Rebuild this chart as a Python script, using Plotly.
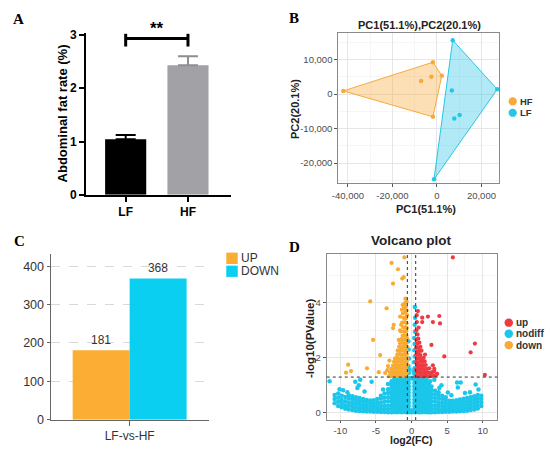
import math
import plotly.graph_objects as go

W, H = 550, 454

# ------------------------------------------------------------------ data
# Panel A: abdominal fat rate (%)
FAT_GROUPS = ["LF", "HF"]
FAT_MEAN = [1.04, 2.43]
FAT_SEM = [0.08, 0.17]
SIG_LABEL = "**"
SIG_Y = 2.93
SIG_TICK = [2.78, 3.02]

# Panel B: PCA scores
HF_PC1 = [-42100, -1800, 2200, -2500, -7100, -1800]
HF_PC2 = [900, 9200, 5300, 5000, 3800, -6600]
LF_PC1 = [7100, 27100, 6700, 10200, 7800, -1300]
LF_PC2 = [15600, 1350, 1000, -6100, -7100, -24700]
PCA_XTICKS = [-40000, -20000, 0, 20000]
PCA_YTICKS = [-20000, -10000, 0, 10000]

# Panel C: DEG counts
DEG_COMPARE = ["LF-vs-HF"]
DEG_UP = [181]
DEG_DOWN = [368]
DEG_YTICKS = [0, 100, 200, 300, 400]

# Panel D: volcano (log2FC, -log10 P)
FC_CUT = 1.5
P_CUT = 0.05
VOL_XTICKS = [-10, -5, 0, 5, 10]
VOL_YTICKS = [0, 2, 4]

NODIFF_LEFT_COLS = [
    (-10.8, [0.35, 0.5, 0.65]),
    (-10.3, [0.25, 0.4, 0.55, 0.7]),
    (-9.8, [0.2, 0.33, 0.47, 0.62]),
    (-9.3, [0.15, 0.28, 0.42, 0.58]),
    (-8.8, [0.12, 0.25, 0.38, 0.52, 0.64]),
    (-8.3, [0.1, 0.22, 0.35, 0.48, 0.6]),
    (-7.8, [0.08, 0.2, 0.33, 0.46, 0.57]),
    (-7.3, [0.07, 0.18, 0.3, 0.42, 0.54]),
    (-6.8, [0.06, 0.17, 0.28, 0.4, 0.5]),
    (-6.3, [0.05, 0.15, 0.26, 0.37, 0.47]),
    (-5.8, [0.05, 0.14, 0.25, 0.35, 0.45]),
    (-5.3, [0.04, 0.13, 0.24, 0.35, 0.46]),
    (-4.8, [0.04, 0.13, 0.24, 0.36, 0.5]),
    (-4.3, [0.03, 0.13, 0.25, 0.38, 0.52, 0.62]),
    (-3.8, [0.03, 0.14, 0.26, 0.4, 0.55, 0.7]),
    (-3.3, [0.02, 0.14, 0.27, 0.42, 0.57, 0.72, 0.86]),
]
NODIFF_RIGHT_COLS = [
    (2.8, [0.02, 0.14, 0.27, 0.41, 0.55, 0.69, 0.83, 0.96]),
    (3.3, [0.02, 0.14, 0.27, 0.4, 0.54, 0.68, 0.8]),
    (3.8, [0.03, 0.14, 0.26, 0.39, 0.52, 0.65, 0.75]),
    (4.3, [0.03, 0.13, 0.25, 0.37, 0.5, 0.62]),
    (4.8, [0.04, 0.13, 0.24, 0.35, 0.47, 0.57]),
    (5.3, [0.04, 0.13, 0.23, 0.33, 0.44]),
    (5.8, [0.05, 0.14, 0.24, 0.34, 0.44]),
    (6.3, [0.05, 0.15, 0.25, 0.35, 0.46]),
    (6.8, [0.06, 0.16, 0.27, 0.38, 0.49]),
    (7.3, [0.07, 0.17, 0.28, 0.4, 0.51]),
    (7.8, [0.08, 0.19, 0.3, 0.42, 0.54]),
    (8.3, [0.1, 0.21, 0.33, 0.45, 0.57]),
    (8.8, [0.12, 0.24, 0.36, 0.48, 0.6]),
    (9.3, [0.16, 0.28, 0.4, 0.52, 0.65]),
    (9.8, [0.25, 0.38, 0.5, 0.62]),
]
NODIFF_CORE_COLS = [
    (-2.8, [0.02, 0.14, 0.27, 0.4, 0.53, 0.66, 0.79, 0.92, 1.04, 1.15]),
    (-2.45, [0.03, 0.15, 0.26, 0.38, 0.5, 0.62, 0.75, 0.87, 0.98, 1.1, 1.2]),
    (-2.1, [0.02, 0.13, 0.25, 0.37, 0.49, 0.61, 0.73, 0.85, 0.97, 1.09, 1.22]),
    (-1.75, [0.03, 0.14, 0.26, 0.38, 0.5, 0.62, 0.74, 0.86, 0.98, 1.1, 1.21, 1.28]),
    (-1.4, [0.02, 0.13, 0.25, 0.37, 0.49, 0.61, 0.73, 0.85, 0.97, 1.09, 1.2, 1.28]),
    (-1.05, [0.03, 0.15, 0.27, 0.39, 0.51, 0.63, 0.75, 0.87, 0.99, 1.11, 1.22, 1.29]),
    (-0.72, [0.02, 0.14, 0.26, 0.38, 0.5, 0.62, 0.74, 0.86, 0.98, 1.1, 1.21, 1.28]),
    (-0.4, [0.02, 0.13, 0.25, 0.37, 0.49, 0.61, 0.73, 0.85, 0.97, 1.09, 1.2, 1.28]),
    (0.0, [0.02, 0.09, 1.26]),
    (0.4, [0.02, 0.13, 0.25, 0.37, 0.49, 0.61, 0.73, 0.85, 0.97, 1.09, 1.2, 1.28]),
    (0.72, [0.03, 0.15, 0.27, 0.39, 0.51, 0.63, 0.75, 0.87, 0.99, 1.11, 1.22, 1.29]),
    (1.05, [0.02, 0.14, 0.26, 0.38, 0.5, 0.62, 0.74, 0.86, 0.98, 1.1, 1.21, 1.28]),
    (1.4, [0.02, 0.13, 0.25, 0.37, 0.49, 0.61, 0.73, 0.85, 0.97, 1.09, 1.2, 1.28]),
    (1.75, [0.03, 0.15, 0.27, 0.39, 0.51, 0.63, 0.75, 0.87, 0.99, 1.11, 1.22]),
    (2.1, [0.02, 0.14, 0.26, 0.38, 0.5, 0.62, 0.74, 0.86, 0.98, 1.1, 1.2]),
    (2.45, [0.02, 0.13, 0.25, 0.37, 0.49, 0.61, 0.73, 0.85, 0.97, 1.07]),
]
NODIFF_SPARSE = [
    (0.38, 1.42), (0.42, 1.62), (0.35, 1.84), (0.45, 2.05), (0.4, 2.28), (0.44, 2.5),
    (0.38, 2.72), (0.48, 2.95), (0.45, 3.2), (0.5, 3.46), (0.46, 3.85), (-0.38, 1.45),
    (-0.42, 1.7), (-0.35, 1.98), (-0.4, 2.3), (-0.45, 2.6), (0.3, 1.5), (-0.3, 1.58),
    (-11.5, 1.15), (-10.1, 0.86), (-9.6, 0.82), (-7.9, 1.13), (-7.4, 1.0), (-7.2, 1.2),
    (-7.6, 0.9), (-5.6, 1.13), (-6.6, 0.78), (-9.0, 0.75), (3.2, 1.2), (4.2, 1.0),
    (5.1, 0.74), (6.4, 1.1), (6.9, 1.1), (6.5, 0.92), (9.0, 1.03), (9.4, 0.85),
    (7.5, 0.72), (5.6, 0.64), (8.2, 0.75), (-4.0, 0.85), (3.9, 0.9), (-3.3, 1.05),
    (2.6, 1.15),
]
DOWN_PTS = [
    (-3.15, 1.34), (-2.85, 1.33), (-2.55, 1.36), (-2.25, 1.33), (-1.95, 1.35), (-1.65, 1.33),
    (-1.35, 1.36), (-1.05, 1.34), (-0.75, 1.33), (-3.0, 1.46), (-2.7, 1.48), (-2.4, 1.45),
    (-2.1, 1.47), (-1.8, 1.46), (-1.5, 1.48), (-1.2, 1.45), (-0.9, 1.47), (-0.65, 1.46),
    (-2.85, 1.6), (-2.55, 1.58), (-2.25, 1.61), (-1.95, 1.59), (-1.65, 1.6), (-1.35, 1.58),
    (-1.05, 1.61), (-0.75, 1.59), (-2.6, 1.72), (-2.3, 1.74), (-2.0, 1.71), (-1.7, 1.73),
    (-1.4, 1.72), (-1.1, 1.74), (-0.8, 1.71), (-0.63, 1.75), (-2.45, 1.86), (-2.15, 1.84),
    (-1.85, 1.87), (-1.55, 1.85), (-1.25, 1.86), (-0.95, 1.84), (-0.68, 1.87), (-2.3, 1.98),
    (-2.0, 2.0), (-1.7, 1.97), (-1.4, 1.99), (-1.1, 1.98), (-0.8, 2.0), (-0.63, 1.98),
    (-2.0, 2.12), (-1.7, 2.13), (-1.4, 2.11), (-1.1, 2.13), (-0.85, 2.12), (-0.65, 2.14),
    (-1.95, 2.26), (-1.6, 2.25), (-1.3, 2.27), (-1.0, 2.25), (-0.75, 2.27), (-1.75, 2.4),
    (-1.45, 2.38), (-1.15, 2.4), (-0.85, 2.39), (-0.63, 2.41), (-1.6, 2.53), (-1.3, 2.55),
    (-1.0, 2.52), (-0.72, 2.54), (-1.8, 2.65), (-1.4, 2.68), (-1.1, 2.66), (-0.8, 2.67),
    (-0.64, 2.7), (-1.25, 2.8), (-0.95, 2.82), (-0.7, 2.8), (-1.5, 2.96), (-1.05, 2.95),
    (-0.75, 2.97), (-1.6, 3.0), (-1.45, 3.2), (-2.5, 3.2), (-2.6, 3.08), (-1.15, 3.1),
    (-0.85, 3.12), (-0.65, 3.08), (-1.3, 3.28), (-0.95, 3.3), (-0.7, 3.26), (-1.6, 3.5),
    (-1.1, 3.45), (-0.78, 3.44), (-0.62, 3.55), (-1.2, 3.62), (-0.9, 3.65), (-0.68, 3.72),
    (-1.35, 3.75), (-1.05, 3.8), (-0.8, 3.86), (-1.25, 3.92), (-0.95, 3.98), (-0.7, 4.05),
    (-0.85, 4.15), (-3.5, 3.8), (-5.8, 4.05), (-2.6, 4.7), (-1.3, 4.88), (-1.1, 4.93),
    (-1.9, 5.22), (-2.8, 5.45), (-1.0, 5.65), (-5.4, 2.65), (-4.4, 2.1), (-4.6, 1.48),
    (-3.7, 1.45), (-3.4, 1.55), (-3.3, 1.7), (-3.1, 1.9), (-8.9, 1.75), (-8.5, 1.52),
    (-9.2, 1.46), (-6.25, 1.62),
]
UP_PTS = [
    (0.66, 1.34), (0.95, 1.33), (1.25, 1.35), (1.55, 1.33), (1.85, 1.36), (2.15, 1.34),
    (2.45, 1.33), (2.75, 1.35), (3.05, 1.34), (3.35, 1.36), (0.8, 1.46), (1.1, 1.47),
    (1.4, 1.45), (1.7, 1.48), (2.0, 1.46), (2.3, 1.47), (2.6, 1.45), (2.9, 1.48),
    (0.66, 1.58), (0.95, 1.6), (1.25, 1.58), (1.55, 1.61), (1.85, 1.59), (2.15, 1.6),
    (2.5, 1.62), (3.2, 1.6), (0.8, 1.72), (1.1, 1.71), (1.4, 1.73), (1.7, 1.72),
    (2.0, 1.74), (3.0, 1.73), (0.66, 1.85), (0.95, 1.84), (1.25, 1.86), (1.55, 1.85),
    (1.85, 1.87), (0.8, 1.98), (1.1, 1.99), (1.4, 1.97), (1.7, 2.0), (0.66, 2.11),
    (0.95, 2.12), (1.25, 2.1), (1.9, 2.12), (0.8, 2.24), (1.1, 2.25), (1.4, 2.26),
    (0.66, 2.37), (0.95, 2.38), (1.25, 2.4), (0.8, 2.52), (1.1, 2.55), (2.8, 2.47),
    (0.68, 2.66), (0.95, 2.7), (0.85, 2.85), (0.68, 3.0), (1.0, 3.1), (1.5, 3.3),
    (0.75, 3.3), (3.0, 3.3), (4.0, 3.25), (2.3, 3.5), (3.9, 3.52), (1.5, 3.46),
    (0.9, 3.7), (0.72, 3.55), (4.6, 2.05), (8.3, 2.2), (8.9, 2.52), (10.3, 1.38),
    (5.8, 5.65), (3.2, 1.52), (3.6, 1.42),
]

# ------------------------------------------------------------------ helpers
FONT = "Liberation Sans, Arial, sans-serif"
SERIF = "Liberation Serif, Times New Roman, serif"


def xd(l, r):
    return [l / W, r / W]


def yd(t, b):
    return [1 - b / H, 1 - t / H]


def cols_to_xy(cols):
    xs, ys = [], []
    for x, yl in cols:
        for y in yl:
            xs.append(x)
            ys.append(y)
    return xs, ys


def pts_to_xy(pts):
    return [p[0] for p in pts], [p[1] for p in pts]


def convex_hull(xs, ys):
    pts = sorted(set(zip(xs, ys)))

    def cross(o, a, b):
        return (a[0] - o[0]) * (b[1] - o[1]) - (a[1] - o[1]) * (b[0] - o[0])

    lower, upper = [], []
    for p in pts:
        while len(lower) >= 2 and cross(lower[-2], lower[-1], p) <= 0:
            lower.pop()
        lower.append(p)
    for p in reversed(pts):
        while len(upper) >= 2 and cross(upper[-2], upper[-1], p) <= 0:
            upper.pop()
        upper.append(p)
    h = lower[:-1] + upper[:-1]
    h.append(h[0])
    return [p[0] for p in h], [p[1] for p in h]


def midpoints(ticks, lo, hi):
    step = ticks[1] - ticks[0]
    vals = [ticks[0] - step / 2] + [t + step / 2 for t in ticks]
    return [v for v in vals if lo <= v <= hi]


annotations = []
shapes = []


def ann(text, px, py, size, bold=False, angle=0, xanchor="center", color="#000000",
        family=FONT):
    annotations.append(dict(
        text=text, x=px / W, y=1 - py / H, xref="paper", yref="paper",
        xanchor=xanchor, yanchor="middle", showarrow=False, textangle=angle,
        font=dict(family=family, size=size, color=color,
                  weight="bold" if bold else "normal")))


fig = go.Figure()

# ------------------------------------------------------------------ Panel A
A_COL = ["#000000", "#A2A1A6"]
A_ERR = ["#000000", "#8F8E93"]
for g, m, s, c, ec in zip(FAT_GROUPS, FAT_MEAN, FAT_SEM, A_COL, A_ERR):
    fig.add_trace(go.Bar(
        x=[g], y=[m], width=0.66, offset=-0.33, xaxis="x", yaxis="y",
        marker=dict(color=c, line=dict(width=0)), showlegend=False,
        error_y=dict(type="data", array=[s], arrayminus=[0], symmetric=False,
                     color=ec, thickness=2, width=10)))

g0, g1 = FAT_GROUPS
fig.add_trace(go.Scatter(
    x=[g0, g0, None, g0, g1, None, g1, g1],
    y=[SIG_TICK[0], SIG_TICK[1], None, SIG_Y, SIG_Y, None, SIG_TICK[0], SIG_TICK[1]],
    mode="lines", line=dict(color="#000000", width=3), cliponaxis=False,
    xaxis="x", yaxis="y", showlegend=False))
annotations.append(dict(
    text=SIG_LABEL, x=0.5, xref="x", y=SIG_TICK[1], yref="y", yanchor="bottom",
    yshift=-6, showarrow=False, font=dict(family=FONT, size=17, weight="bold", color="#000")))

# ------------------------------------------------------------------ Panel B
HF_C, LF_C = "#F7AA3C", "#27C6E6"
for px_, py_, col, fill in [(HF_PC1, HF_PC2, HF_C, "rgba(247,170,60,0.38)"),
                            (LF_PC1, LF_PC2, LF_C, "rgba(39,198,230,0.36)")]:
    hx, hy = convex_hull(px_, py_)
    fig.add_trace(go.Scatter(x=hx, y=hy, mode="lines", fill="toself", fillcolor=fill,
                             line=dict(color=col, width=1), xaxis="x2", yaxis="y2",
                             showlegend=False, hoverinfo="skip"))
for px_, py_, col in [(HF_PC1, HF_PC2, HF_C), (LF_PC1, LF_PC2, LF_C)]:
    fig.add_trace(go.Scatter(x=px_, y=py_, mode="markers",
                             marker=dict(color=col, size=4.5), cliponaxis=False,
                             xaxis="x2", yaxis="y2", showlegend=False))

# ------------------------------------------------------------------ Panel C
UP_C, DOWN_C = "#FBAE33", "#0BCFF0"
fig.add_trace(go.Bar(x=DEG_COMPARE, y=DEG_UP, offset=-0.36, width=0.36,
                     marker=dict(color=UP_C, line=dict(width=0)),
                     text=DEG_UP, textposition="outside", cliponaxis=False,
                     textfont=dict(family=FONT, size=12, color="#333333"),
                     xaxis="x3", yaxis="y3", showlegend=False))
fig.add_trace(go.Bar(x=DEG_COMPARE, y=DEG_DOWN, offset=0.0, width=0.36,
                     marker=dict(color=DOWN_C, line=dict(width=0)),
                     text=DEG_DOWN, textposition="outside", cliponaxis=False,
                     textfont=dict(family=FONT, size=12, color="#333333"),
                     xaxis="x3", yaxis="y3", showlegend=False))

# ------------------------------------------------------------------ Panel D
V_UP, V_NO, V_DOWN = "#EF3A42", "#1BC6EA", "#F8AA32"
nx, ny = [], []
for cols in (NODIFF_LEFT_COLS, NODIFF_RIGHT_COLS, NODIFF_CORE_COLS):
    a, b = cols_to_xy(cols)
    nx += a
    ny += b
a, b = pts_to_xy(NODIFF_SPARSE)
nx += a
ny += b
dx_, dy_ = pts_to_xy(DOWN_PTS)
ux_, uy_ = pts_to_xy(UP_PTS)
fig.add_trace(go.Scatter(x=nx, y=ny, mode="markers", marker=dict(color=V_NO, size=4.5),
                         xaxis="x4", yaxis="y4", showlegend=False))
fig.add_trace(go.Scatter(x=dx_, y=dy_, mode="markers", marker=dict(color=V_DOWN, size=4.2),
                         xaxis="x4", yaxis="y4", showlegend=False))
fig.add_trace(go.Scatter(x=ux_, y=uy_, mode="markers", marker=dict(color=V_UP, size=4.2),
                         xaxis="x4", yaxis="y4", showlegend=False))

p_line = -math.log10(P_CUT)
fc_line = math.log2(FC_CUT)
dot = dict(color="#333333", width=1, dash="dot")
shapes.append(dict(type="line", xref="x4 domain", x0=0, x1=1, yref="y4", y0=p_line, y1=p_line, line=dot))
for v in (-fc_line, fc_line):
    shapes.append(dict(type="line", xref="x4", x0=v, x1=v, yref="y4 domain", y0=0, y1=1, line=dot))


# ------------------------------------------------------------------ legends (manual, compact)
def circle(cx, cy, r, color):
    shapes.append(dict(type="circle", xref="paper", yref="paper",
                       x0=(cx - r) / W, x1=(cx + r) / W, y0=1 - (cy + r) / H, y1=1 - (cy - r) / H,
                       fillcolor=color, line=dict(width=0)))


def rect(x0, y0, x1, y1, color):
    shapes.append(dict(type="rect", xref="paper", yref="paper",
                       x0=x0 / W, x1=x1 / W, y0=1 - y1 / H, y1=1 - y0 / H,
                       fillcolor=color, line=dict(width=0)))


circle(512.3, 99.0, 4.2, HF_C)
circle(512.3, 110.7, 4.2, LF_C)
ann("HF", 517.5, 99.0, 9.5, bold=True, xanchor="left", color="#333333")
ann("LF", 517.5, 110.7, 9.5, bold=True, xanchor="left", color="#333333")

rect(222.7, 254.3, 234.3, 266.0, UP_C)
rect(222.7, 267.7, 234.3, 279.3, DOWN_C)
ann("UP", 236.0, 260.2, 12, xanchor="left", color="#333333")
ann("DOWN", 236.0, 273.6, 12, xanchor="left", color="#333333")

for (lab, col, cy) in [("up", V_UP, 326.3), ("nodiff", V_NO, 337.7), ("down", V_DOWN, 349.3)]:
    circle(508.3, cy, 4.3, col)
    ann(lab, 513.8, cy, 10, bold=True, xanchor="left", color="#333333")

# ------------------------------------------------------------------ texts
ann("A", 12.5, 14.5, 15, bold=True, family=SERIF)
ann("B", 291.5, 13.0, 15, bold=True, family=SERIF)
ann("C", 13.5, 242.0, 15, bold=True, family=SERIF)
ann("D", 291.5, 248.5, 15, bold=True, family=SERIF)

ann("Abdominal fat rate (%)", 57.0, 111.0, 13, bold=True, angle=-90)
ann("PC1(51.1%),PC2(20.1%)", 418.3, 20.7, 11, bold=True, color="#222222")
ann("PC1(51.1%)", 425.0, 209.3, 11, bold=True, color="#222222")
ann("PC2(20.1%)", 292.0, 107.0, 11, bold=True, angle=-90, color="#222222")
ann("Volcano plot", 410.3, 242.0, 13.5, bold=True, color="#222222")
ann("log2(FC)", 410.3, 446.3, 10.5, bold=True, color="#222222")
ann("-log10(PValue)", 306.7, 342.7, 11.5, bold=True, angle=-90, color="#222222")

# ------------------------------------------------------------------ axes
gg = dict(showline=True, mirror=True, linecolor="#8A8A8A", linewidth=1,
          ticks="outside", ticklen=3, tickcolor="#555555", tickwidth=1,
          tickfont=dict(family=FONT, size=9.5, color="#4D4D4D"),
          showgrid=True, gridcolor="#E6E6E6", gridwidth=1, zeroline=False)
gg_x4 = dict(gg, ticklen=2)

layout_axes = dict(
    xaxis=dict(domain=xd(81, 227), anchor="y", type="category", range=[-0.635, 1.683],
               showline=True, linecolor="#000", linewidth=2, ticks="outside", ticklen=5,
               tickwidth=2, tickcolor="#000", showgrid=False, zeroline=False,
               tickfont=dict(family=FONT, size=12, color="#000", weight="bold")),
    yaxis=dict(domain=yd(29, 195), anchor="x", range=[0, 3.03], tickvals=[0, 1, 2, 3],
               showline=True, linecolor="#000", linewidth=2, ticks="outside", ticklen=5,
               tickwidth=2, tickcolor="#000", showgrid=False, zeroline=False,
               tickfont=dict(family=FONT, size=12, color="#000", weight="bold")),
    xaxis2=dict(domain=xd(336, 498), anchor="y2", range=[-44300, 27700],
                tickvals=PCA_XTICKS, ticktext=[f"{v:,}" for v in PCA_XTICKS],
                minor=dict(tickmode="array", tickvals=midpoints(PCA_XTICKS, -44300, 27700),
                           showgrid=True, gridcolor="#F2F2F2", gridwidth=0.7, ticks=""),
                **gg),
    yaxis2=dict(domain=yd(28.3, 183.3), anchor="x2", range=[-25900, 17800],
                tickvals=PCA_YTICKS, ticktext=[f"{v:,}" for v in PCA_YTICKS],
                minor=dict(tickmode="array", tickvals=midpoints(PCA_YTICKS, -25900, 17800),
                           showgrid=True, gridcolor="#F2F2F2", gridwidth=0.7, ticks=""),
                **gg),
    xaxis3=dict(domain=xd(45, 205), anchor="y3", type="category", range=[-0.5, 0.5],
                showline=True, linecolor="#666666", linewidth=1, ticks="outside", ticklen=5,
                tickcolor="#666666", showgrid=False, zeroline=False,
                tickfont=dict(family=FONT, size=12, color="#333333")),
    yaxis3=dict(domain=yd(256, 426), anchor="x3", range=[0, 431], tickvals=DEG_YTICKS,
                showline=True, linecolor="#666666", linewidth=1, ticks="outside", ticklen=3,
                tickcolor="#666666", showgrid=True, gridcolor="#D9D9D9", griddash="dash",
                gridwidth=1, zeroline=False,
                tickfont=dict(family=FONT, size=12.5, color="#333333")),
    xaxis4=dict(domain=xd(324.3, 496.7), anchor="y4", range=[-11.9, 12.04],
                tickvals=VOL_XTICKS, ticktext=[str(v) for v in VOL_XTICKS],
                minor=dict(tickmode="array", tickvals=midpoints(VOL_XTICKS, -11.9, 12.04),
                           showgrid=True, gridcolor="#F2F2F2", gridwidth=0.7, ticks=""),
                **gg_x4),
    yaxis4=dict(domain=yd(255.3, 426.3), anchor="x4", range=[-0.26, 5.79],
                tickvals=VOL_YTICKS, ticktext=[str(v) for v in VOL_YTICKS],
                minor=dict(tickmode="array", tickvals=midpoints(VOL_YTICKS, -0.26, 5.79),
                           showgrid=True, gridcolor="#F2F2F2", gridwidth=0.7, ticks=""),
                **gg),
)

fig.update_layout(
    width=W, height=H, autosize=False, margin=dict(l=0, r=0, t=0, b=0, pad=0),
    paper_bgcolor="#FFFFFF", plot_bgcolor="rgba(0,0,0,0)",
    font=dict(family=FONT), barmode="overlay", showlegend=False,
    annotations=annotations, shapes=shapes, **layout_axes)

fig.write_html("out.html",
               config={"displayModeBar": False, "staticPlot": True},
               post_script="document.body.style.margin='0';document.body.style.padding='0';"
                           "document.body.style.overflow='hidden';")
